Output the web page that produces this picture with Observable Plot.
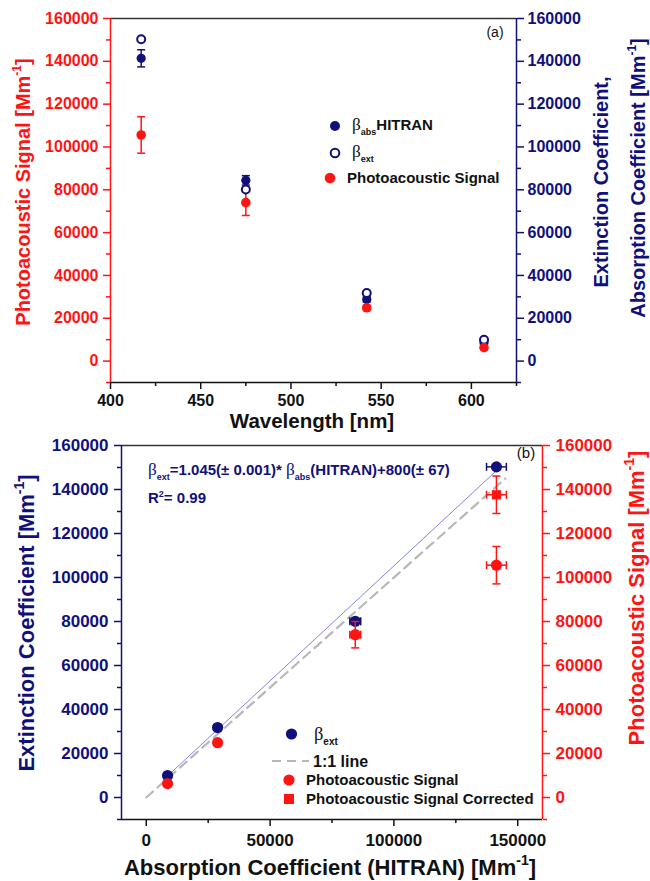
<!DOCTYPE html>
<html><head><meta charset="utf-8">
<script src="https://cdn.jsdelivr.net/npm/d3@7"></script>
<script src="https://cdn.jsdelivr.net/npm/@observablehq/plot@0.6"></script>
<style>
body{margin:0;background:#fff;}
#chart{width:650px;height:881px;position:relative;}
svg{display:block;}
</style></head><body><div id="chart"></div>
<script>
const NAVY = "#10107a", RED = "#ff1414", FIT = "#8484e0", DASH = "#b8b8b8";
const FONT = "'Liberation Sans', Arial, sans-serif";
const SERIF = "'Liberation Serif', 'DejaVu Serif', serif";

// ---- data ----
const wavelength     = [417, 475, 542, 607];
const betaAbsHitran  = [141400, 84400, 28800, 8600];
const betaAbsErr     = [4000, 2200, 1200, 800];
const betaExt        = [150300, 80100, 31800, 10000];
const paSignal       = [105600, 74000, 24900, 6300];
const paSignalErr    = [8500, 6000, 1200, 1000];
const paCorrected    = [137600];
const paCorrectedAbs = [141400];
const paCorrectedErr = [8500];
const paCorrectedAbsErr = [4000];
const fitLineX = [8600, 142500];
const fitLineY = [9800, 149700];
const oneToOneLine = [0, 145000];

// ---- scales / ticks ----
const wlDomain  = [400, 625];
const yDomain   = [-10000, 160000];
const absDomain = [-10000, 160000];
const wlTicks   = [400, 450, 500, 550, 600];
const wlMinor   = [425, 475, 525, 575, 625];
const yTicks    = [0, 20000, 40000, 60000, 80000, 100000, 120000, 140000, 160000];
const yMinor    = [-10000, 10000, 30000, 50000, 70000, 90000, 110000, 130000, 150000];
const absTicks  = [0, 50000, 100000, 150000];
const absMinor  = [25000, 75000, 125000];

const rows = wavelength.map((w, i) => ({
  w, abs: betaAbsHitran[i], absErr: betaAbsErr[i], ext: betaExt[i],
  pa: paSignal[i], paErr: paSignalErr[i]
}));
const corrRows = paCorrected.map((v, i) => ({abs: paCorrectedAbs[i], absErr: paCorrectedAbsErr[i], pa: v, paErr: paCorrectedErr[i]}));

const capH = {draw(ctx, size) { const r = Math.sqrt(size / Math.PI); ctx.moveTo(-r, 0); ctx.lineTo(r, 0); }};
const capV = {draw(ctx, size) { const r = Math.sqrt(size / Math.PI); ctx.moveTo(0, -r); ctx.lineTo(0, r); }};
const fmt = d => String(d);

function axisSet(dir, anchor, ticks, minor, color, size, pad) {
  const A = dir === "y" ? Plot.axisY : Plot.axisX;
  return [
    A({anchor, ticks, tickSize: 7, tickPadding: pad, tickFormat: fmt, color, fontSize: size, fontWeight: "bold", strokeWidth: 1.5, label: null}),
    A({anchor, ticks: minor, tickSize: 4, tickFormat: () => "", color, strokeWidth: 1.5, label: null})
  ];
}

// ---- rich text helper ----
function rich(sel, parts, size) {
  let shift = 0;
  for (const p of parts) {
    const target = p.sup ? -0.45 * size : p.sub ? 0.32 * size : 0;
    const fs = (p.sup || p.sub) ? Math.round(size * 0.62) : (p.beta ? size * 1.15 : size);
    const ts = sel.append("tspan").text(p.t).attr("font-size", fs).attr("dy", target - shift);
    if (p.beta) ts.attr("font-family", SERIF).attr("font-weight", "normal");
    shift = target;
  }
}
function label(svg, {x, y, rotate = 0, anchor = "middle", color = "#000", size = 16, weight = "bold", parts}) {
  const g = d3.select(svg).append("g")
    .attr("transform", `translate(${x},${y})` + (rotate ? ` rotate(${rotate})` : ""));
  const t = g.append("text")
    .attr("x", 0).attr("y", 0.36 * size)
    .attr("text-anchor", anchor).attr("fill", color).attr("font-family", FONT)
    .attr("font-weight", weight).attr("font-size", size);
  rich(t, parts, size);
  return t;
}

// ================= Panel (a) =================
const HA = 434;
const svgA = Plot.plot({
  width: 650, height: HA,
  marginLeft: 110, marginRight: 134, marginTop: 18, marginBottom: HA - 382,
  style: {fontFamily: FONT, fontWeight: "bold", fontSize: "16px", background: "white"},
  x: {domain: wlDomain},
  y: {domain: yDomain},
  marks: [
    Plot.ruleY([yDomain[1]], {stroke: "#333", strokeWidth: 1.5}),
    Plot.ruleY([yDomain[0]], {stroke: "#111", strokeWidth: 1.5}),
    Plot.ruleX([wlDomain[0]], {stroke: RED, strokeWidth: 1.5}),
    Plot.ruleX([wlDomain[1]], {stroke: NAVY, strokeWidth: 1.5}),
    ...axisSet("y", "left", yTicks, yMinor, RED, 16, 5),
    ...axisSet("y", "right", yTicks, yMinor, NAVY, 16, 4),
    ...axisSet("x", "bottom", wlTicks, wlMinor, "#111", 16, 5),
    // beta_abs error bars
    Plot.ruleX(rows, {x: "w", y1: d => d.abs - d.absErr, y2: d => d.abs + d.absErr, stroke: NAVY, strokeWidth: 1.5}),
    Plot.dot(rows.flatMap(d => [{w: d.w, y: d.abs - d.absErr}, {w: d.w, y: d.abs + d.absErr}]), {x: "w", y: "y", symbol: capH, r: 4, stroke: NAVY, strokeWidth: 1.5, fill: "none"}),
    // PA error bars
    Plot.ruleX(rows, {x: "w", y1: d => d.pa - d.paErr, y2: d => d.pa + d.paErr, stroke: RED, strokeWidth: 1.5}),
    Plot.dot(rows.flatMap(d => [{w: d.w, y: d.pa - d.paErr}, {w: d.w, y: d.pa + d.paErr}]), {x: "w", y: "y", symbol: capH, r: 4, stroke: RED, strokeWidth: 1.5, fill: "none"}),
    Plot.dot(rows, {x: "w", y: "abs", r: 4.6, fill: NAVY, stroke: "none"}),
    Plot.dot(rows, {x: "w", y: "ext", r: 4, fill: "white", stroke: NAVY, strokeWidth: 2}),
    Plot.dot(rows, {x: "w", y: "pa", r: 4.8, fill: RED, stroke: "none"})
  ]
});

// ================= Panel (b) =================
const oB = HA;
const svgB = Plot.plot({
  width: 650, height: 881 - oB,
  marginLeft: 121, marginRight: 108, marginTop: 445 - oB, marginBottom: 62,
  style: {fontFamily: FONT, fontWeight: "bold", fontSize: "17px", background: "white"},
  x: {domain: absDomain},
  y: {domain: yDomain},
  marks: [
    Plot.ruleY([yDomain[1]], {stroke: "#333", strokeWidth: 1.5}),
    Plot.ruleY([yDomain[0]], {stroke: "#111", strokeWidth: 1.5}),
    Plot.ruleX([absDomain[0]], {stroke: NAVY, strokeWidth: 1.5}),
    Plot.ruleX([absDomain[1]], {stroke: RED, strokeWidth: 1.5}),
    ...axisSet("y", "left", yTicks, yMinor, NAVY, 17, 6),
    ...axisSet("y", "right", yTicks, yMinor, RED, 17, 6),
    ...axisSet("x", "bottom", absTicks, absMinor, "#111", 17, 7),
    Plot.line(fitLineX.map((x, i) => ({x, y: fitLineY[i]})), {x: "x", y: "y", stroke: FIT, strokeWidth: 1}),
    Plot.line(oneToOneLine.map(v => ({x: v, y: v})), {x: "x", y: "y", stroke: DASH, strokeWidth: 2.2, strokeDasharray: "9,6"}),
    // beta_ext vs beta_abs with horizontal error bars
    Plot.ruleY(rows, {y: "ext", x1: d => d.abs - d.absErr, x2: d => d.abs + d.absErr, stroke: NAVY, strokeWidth: 1.5}),
    Plot.dot(rows.flatMap(d => [{x: d.abs - d.absErr, y: d.ext}, {x: d.abs + d.absErr, y: d.ext}]), {x: "x", y: "y", symbol: capV, r: 4, stroke: NAVY, strokeWidth: 1.5, fill: "none"}),
    Plot.dot(rows, {x: "abs", y: "ext", r: 5.6, fill: NAVY, stroke: "none"}),
    // PA signal
    Plot.ruleY(rows, {y: "pa", x1: d => d.abs - d.absErr, x2: d => d.abs + d.absErr, stroke: RED, strokeWidth: 1.5}),
    Plot.ruleX(rows, {x: "abs", y1: d => d.pa - d.paErr, y2: d => d.pa + d.paErr, stroke: RED, strokeWidth: 1.5}),
    Plot.dot(rows.flatMap(d => [{x: d.abs - d.absErr, y: d.pa}, {x: d.abs + d.absErr, y: d.pa}]), {x: "x", y: "y", symbol: capV, r: 4, stroke: RED, strokeWidth: 1.5, fill: "none"}),
    Plot.dot(rows.flatMap(d => [{x: d.abs, y: d.pa - d.paErr}, {x: d.abs, y: d.pa + d.paErr}]), {x: "x", y: "y", symbol: capH, r: 4, stroke: RED, strokeWidth: 1.5, fill: "none"}),
    Plot.dot(rows, {x: "abs", y: "pa", r: 5.6, fill: RED, stroke: "none"}),
    // PA corrected
    Plot.ruleY(corrRows, {y: "pa", x1: d => d.abs - d.absErr, x2: d => d.abs + d.absErr, stroke: RED, strokeWidth: 1.5}),
    Plot.ruleX(corrRows, {x: "abs", y1: d => d.pa - d.paErr, y2: d => d.pa + d.paErr, stroke: RED, strokeWidth: 1.5}),
    Plot.dot(corrRows.flatMap(d => [{x: d.abs - d.absErr, y: d.pa}, {x: d.abs + d.absErr, y: d.pa}]), {x: "x", y: "y", symbol: capV, r: 4, stroke: RED, strokeWidth: 1.5, fill: "none"}),
    Plot.dot(corrRows.flatMap(d => [{x: d.abs, y: d.pa - d.paErr}, {x: d.abs, y: d.pa + d.paErr}]), {x: "x", y: "y", symbol: capH, r: 4, stroke: RED, strokeWidth: 1.5, fill: "none"}),
    Plot.dot(corrRows, {x: "abs", y: "pa", r: 5.2, symbol: "square", fill: RED, stroke: "none"})
  ]
});

document.getElementById("chart").append(svgA, svgB);

// ---- panel (a) titles, legend, tag ----
const sup1 = [{t: "Mm"}, {t: "-1", sup: true}, {t: "]"}];
label(svgA, {x: 23, y: 192, rotate: -90, color: RED, size: 20, parts: [{t: "Photoacoustic Signal ["}, ...sup1]});
label(svgA, {x: 601, y: 182, rotate: -90, color: NAVY, size: 20, parts: [{t: "Extinction Coefficient,"}]});
label(svgA, {x: 638, y: 178, rotate: -90, color: NAVY, size: 20, parts: [{t: "Absorption Coefficient ["}, ...sup1]});
label(svgA, {x: 312, y: 421, color: "#111", size: 20.5, parts: [{t: "Wavelength [nm]"}]});
label(svgA, {x: 495, y: 32, color: "#111", size: 14, weight: "normal", parts: [{t: "(a)"}]});

const gA = d3.select(svgA);
gA.append("circle").attr("cx", 335).attr("cy", 126).attr("r", 5).attr("fill", NAVY);
gA.append("circle").attr("cx", 335).attr("cy", 153).attr("r", 4.3).attr("fill", "white").attr("stroke", NAVY).attr("stroke-width", 2);
gA.append("circle").attr("cx", 330).attr("cy", 178).attr("r", 5.3).attr("fill", RED);
label(svgA, {x: 352, y: 125, anchor: "start", color: "#111", size: 15, parts: [{t: "β", beta: true}, {t: "abs", sub: true}, {t: "HITRAN"}]});
label(svgA, {x: 352, y: 152, anchor: "start", color: "#111", size: 15, parts: [{t: "β", beta: true}, {t: "ext", sub: true}]});
label(svgA, {x: 347, y: 178, anchor: "start", color: "#111", size: 15, parts: [{t: "Photoacoustic Signal"}]});

// ---- panel (b) titles, legend, annotation ----
label(svgB, {x: 26, y: 623 - oB, rotate: -90, color: NAVY, size: 22, parts: [{t: "Extinction Coefficient ["}, ...sup1]});
label(svgB, {x: 636, y: 598 - oB, rotate: -90, color: RED, size: 22, parts: [{t: "Photoacoustic Signal ["}, ...sup1]});
label(svgB, {x: 330, y: 867 - oB, color: "#111", size: 22, parts: [{t: "Absorption Coefficient (HITRAN) ["}, ...sup1]});
label(svgB, {x: 526, y: 453 - oB, color: "#111", size: 15, weight: "normal", parts: [{t: "(b)"}]});
label(svgB, {x: 148, y: 470 - oB, anchor: "start", color: NAVY, size: 15, parts: [
  {t: "β", beta: true}, {t: "ext", sub: true}, {t: "=1.045(± 0.001)* "}, {t: "β", beta: true}, {t: "abs", sub: true}, {t: "(HITRAN)+800(± 67)"}]});
label(svgB, {x: 148, y: 498 - oB, anchor: "start", color: NAVY, size: 15, parts: [{t: "R"}, {t: "2", sup: true}, {t: "= 0.99"}]});

const gB = d3.select(svgB);
gB.append("circle").attr("cx", 291.5).attr("cy", 734 - oB).attr("r", 5.6).attr("fill", NAVY);
gB.append("line").attr("x1", 272).attr("x2", 309).attr("y1", 761 - oB).attr("y2", 761 - oB).attr("stroke", DASH).attr("stroke-width", 2.2).attr("stroke-dasharray", "9,6");
gB.append("circle").attr("cx", 289).attr("cy", 780 - oB).attr("r", 5.6).attr("fill", RED);
gB.append("rect").attr("x", 284).attr("y", 794 - oB).attr("width", 10).attr("height", 10).attr("fill", RED);
label(svgB, {x: 314, y: 734 - oB, anchor: "start", color: "#111", size: 16, parts: [{t: "β", beta: true}, {t: "ext", sub: true}]});
label(svgB, {x: 313, y: 761 - oB, anchor: "start", color: "#111", size: 16, parts: [{t: "1:1 line"}]});
label(svgB, {x: 306, y: 780 - oB, anchor: "start", color: "#111", size: 15, parts: [{t: "Photoacoustic Signal"}]});
label(svgB, {x: 306, y: 799 - oB, anchor: "start", color: "#111", size: 15, parts: [{t: "Photoacoustic Signal Corrected"}]});
</script></body></html>
